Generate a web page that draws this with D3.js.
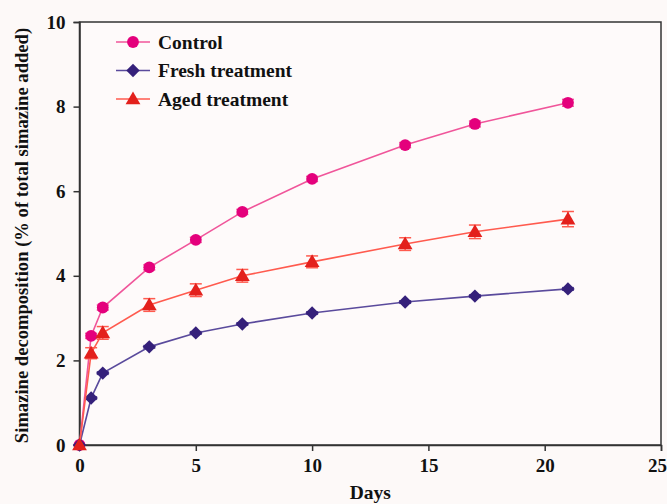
<!DOCTYPE html>
<html>
<head>
<meta charset="utf-8">
<script src="https://cdn.jsdelivr.net/npm/d3@7"></script>
<style>
body { margin: 0; background: #fdf9f8; }
svg text { font-family: "Liberation Serif", "DejaVu Serif", serif !important; font-weight: bold; fill: #111; }
</style>
</head>
<body>
<script>
var width = 667,
    height = 504;

// data
var days = [0, 0.5, 1, 3, 5, 7, 10, 14, 17, 21];
var control = [0, 2.58, 3.25, 4.2, 4.85, 5.51, 6.29, 7.09, 7.59, 8.09];
var controlErr = [0, 0.06, 0.06, 0.06, 0.06, 0.06, 0.06, 0.06, 0.07, 0.08];
var fresh = [0, 1.11, 1.7, 2.32, 2.65, 2.86, 3.12, 3.38, 3.52, 3.69];
var freshErr = [0, 0.03, 0.03, 0.03, 0.03, 0.03, 0.03, 0.03, 0.03, 0.03];
var aged = [0, 2.17, 2.65, 3.31, 3.66, 4.0, 4.33, 4.75, 5.04, 5.34];
var agedErr = [0, 0.13, 0.15, 0.15, 0.15, 0.15, 0.14, 0.15, 0.16, 0.18];
var xTicks = [0, 5, 10, 15, 20, 25];
var yTicks = [0, 2, 4, 6, 8, 10];

var series = [
  {name: "Control", values: control, err: controlErr, line: "#f0559a", fill: "#e4007c", shape: "circle"},
  {name: "Fresh treatment", values: fresh, err: freshErr, line: "#5a4a9c", fill: "#35207a", shape: "diamond"},
  {name: "Aged treatment", values: aged, err: agedErr, line: "#ff5a4e", fill: "#e3201c", shape: "triangle"}
];

var svg = d3.select("body").append("svg")
    .attr("width", width)
    .attr("height", height)
    .attr("font-family", "Liberation Serif");

var x = d3.scaleLinear().domain([0, 25]).range([79.5, 661]);
var y = d3.scaleLinear().domain([0, 10]).range([445, 22]);

// plot box
svg.append("rect")
    .attr("x", x(0)).attr("y", y(10))
    .attr("width", x(25) - x(0)).attr("height", y(0) - y(10))
    .attr("fill", "#fefafa")
    .attr("stroke", "#333")
    .attr("stroke-width", 1.5);

var xAxis = svg.append("g")
    .attr("transform", "translate(0," + y(0) + ")")
    .call(d3.axisBottom(x).tickValues(xTicks).tickSize(6).tickPadding(8));
var yAxis = svg.append("g")
    .attr("transform", "translate(" + x(0) + ",0)")
    .call(d3.axisLeft(y).tickValues(yTicks).tickSize(6).tickPadding(8));

[xAxis, yAxis].forEach(function(a) {
  a.attr("font-family", "Liberation Serif").attr("font-size", 19);
  a.select(".domain").attr("stroke", "#333").attr("stroke-width", 1.5);
  a.selectAll(".tick line").attr("stroke", "#333").attr("stroke-width", 1.5);
  a.selectAll(".tick text").attr("fill", "#111");
});
// last x label sits a little inside the edge
xAxis.selectAll(".tick text").filter(function(d) { return d === 25; }).attr("dx", -4);

svg.append("text")
    .attr("x", (x(0) + x(25)) / 2)
    .attr("y", 499)
    .attr("text-anchor", "middle")
    .attr("font-size", 19.5)
    .text("Days");

svg.append("text")
    .attr("transform", "translate(28,235.5) rotate(-90)")
    .attr("text-anchor", "middle")
    .attr("font-size", 18.6)
    .text("Simazine decomposition (% of total simazine added)");

var symbols = {
  circle: d3.symbol().type(d3.symbolCircle).size(110),
  diamond: d3.symbol().type(d3.symbolSquare).size(90),
  triangle: d3.symbol().type(d3.symbolTriangle).size(95)
};
function symTransform(shape, px, py) {
  var t = "translate(" + px + "," + (py + (shape === "triangle" ? 1 : 0)) + ")";
  return shape === "diamond" ? t + " rotate(45)" : t;
}

var line = d3.line()
    .x(function(d) { return x(d[0]); })
    .y(function(d) { return y(d[1]); });

series.forEach(function(s) {
  var pts = days.map(function(d, i) { return [d, s.values[i], s.err[i]]; });
  var g = svg.append("g");

  g.append("path")
      .datum(pts)
      .attr("d", line)
      .attr("fill", "none")
      .attr("stroke", s.line)
      .attr("stroke-width", 1.6);

  // error bars
  var eb = g.selectAll(".eb").data(pts.filter(function(d) { return d[2] > 0; }))
    .enter().append("g");
  eb.append("line")
      .attr("x1", function(d) { return x(d[0]); })
      .attr("x2", function(d) { return x(d[0]); })
      .attr("y1", function(d) { return y(d[1] - d[2]); })
      .attr("y2", function(d) { return y(d[1] + d[2]); })
      .attr("stroke", s.line).attr("stroke-width", 1.5);
  [-1, 1].forEach(function(sg) {
    eb.append("line")
        .attr("x1", function(d) { return x(d[0]) - 6; })
        .attr("x2", function(d) { return x(d[0]) + 6; })
        .attr("y1", function(d) { return y(d[1] + sg * d[2]); })
        .attr("y2", function(d) { return y(d[1] + sg * d[2]); })
        .attr("stroke", s.line).attr("stroke-width", 1.5);
  });

  g.selectAll(".pt").data(pts)
    .enter().append("path")
      .attr("d", symbols[s.shape])
      .attr("transform", function(d) { return symTransform(s.shape, x(d[0]), y(d[1])); })
      .attr("fill", s.fill);
});

// legend
var legend = svg.selectAll(".legend").data(series)
  .enter().append("g")
    .attr("transform", function(d, i) { return "translate(116," + (42 + i * 28.5) + ")"; });
legend.append("line")
    .attr("x1", 0).attr("x2", 34)
    .attr("stroke", function(d) { return d.line; })
    .attr("stroke-width", 1.6);
legend.append("path")
    .attr("d", function(d) { return symbols[d.shape](); })
    .attr("transform", function(d) { return symTransform(d.shape, 17, 0); })
    .attr("fill", function(d) { return d.fill; });
legend.append("text")
    .attr("x", 42)
    .attr("y", 6.5)
    .attr("font-size", 19.5)
    .text(function(d) { return d.name; });
</script>
</body>
</html>
